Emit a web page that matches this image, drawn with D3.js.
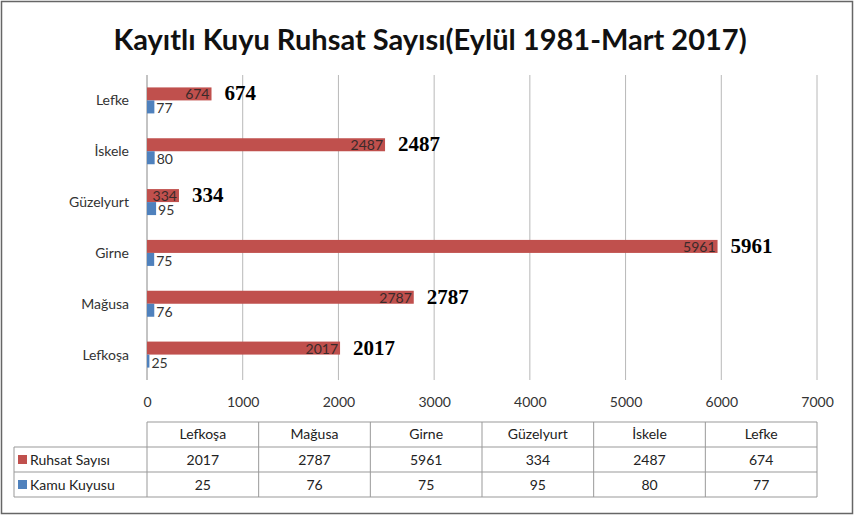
<!DOCTYPE html>
<html><head><meta charset="utf-8">
<script src="https://cdn.jsdelivr.net/npm/d3@7"></script>
<style>body{margin:0;background:#fff}</style></head>
<body><svg id="c" width="855" height="519"></svg>
<script>
const categories=["Lefkoşa","Mağusa","Girne","Güzelyurt","İskele","Lefke"];
const ruhsat=[2017,2787,5961,334,2487,674];
const kamu=[25,76,75,95,80,77];
const seriesNames=["Ruhsat Sayısı","Kamu Kuyusu"];
const colors=["#c0504d","#4f81bd"];
const ticks=[0,1000,2000,3000,4000,5000,6000,7000];
const svg=d3.select("#c");
const F="Lato, 'Open Sans', sans-serif";
svg.append("rect").attr("x",1.5).attr("y",1.5).attr("width",851).attr("height",512).attr("fill","#fff").attr("stroke","#666").attr("stroke-width",1.5);
svg.append("text").attr("x",430).attr("y",50).attr("text-anchor","middle").attr("font-family",F).attr("font-weight","bold").attr("font-size",29).attr("fill","#111").text("Kayıtlı Kuyu Ruhsat Sayısı(Eylül 1981-Mart 2017)");
const x=d3.scaleLinear().domain([0,7000]).range([147,817]);
const y=d3.scaleBand().domain(categories.slice().reverse()).range([75,380]);
svg.append("g").selectAll("line").data(ticks.slice(1)).join("line").attr("x1",d=>x(d)).attr("x2",d=>x(d)).attr("y1",75).attr("y2",380).attr("stroke","#b8b8b8");
svg.append("line").attr("x1",x(0)).attr("x2",x(0)).attr("y1",75).attr("y2",380).attr("stroke","#888");
const ax=svg.append("g").attr("transform","translate(0,380)").call(d3.axisBottom(x).tickValues(ticks).tickSize(0).tickPadding(17).tickFormat(d3.format("d")));
ax.select(".domain").remove();
ax.selectAll("text").attr("font-family",F).attr("font-size",14).attr("fill","#333");
categories.forEach((c,i)=>{
  const cy=y(c)+y.bandwidth()/2;
  svg.append("text").attr("x",129).attr("y",cy+5).attr("text-anchor","end").attr("font-family",F).attr("font-size",14).attr("fill","#333").text(c);
  const ry=cy-13;
  svg.append("rect").attr("x",x(0)).attr("y",ry).attr("width",x(ruhsat[i])-x(0)).attr("height",13).attr("fill",colors[0]);
  svg.append("rect").attr("x",x(0)).attr("y",cy).attr("width",x(kamu[i])-x(0)).attr("height",13).attr("fill",colors[1]);
  svg.append("text").attr("x",x(ruhsat[i])-2).attr("y",ry+12).attr("text-anchor","end").attr("font-family",F).attr("font-size",14).attr("fill","#3a2a2a").text(ruhsat[i]);
  svg.append("text").attr("x",x(kamu[i])+2).attr("y",cy+13).attr("font-family",F).attr("font-size",14).attr("fill","#333").text(kamu[i]);
  svg.append("text").attr("x",x(ruhsat[i])+13).attr("y",ry+13).attr("font-family","'Liberation Serif', serif").attr("font-weight","bold").attr("font-size",21).attr("fill","#000").text(ruhsat[i]);
});
const tx0=14,tx1=147,tx2=817,rows=[422,447,472,497];
const cw=(tx2-tx1)/6;
const g=svg.append("g").attr("stroke","#999").attr("fill","none");
g.append("line").attr("x1",tx1).attr("x2",tx2).attr("y1",rows[0]).attr("y2",rows[0]);
[1,2,3].forEach(r=>g.append("line").attr("x1",tx0).attr("x2",tx2).attr("y1",rows[r]).attr("y2",rows[r]));
g.append("line").attr("x1",tx0).attr("x2",tx0).attr("y1",rows[1]).attr("y2",rows[3]);
for(let k=0;k<=6;k++)g.append("line").attr("x1",tx1+k*cw).attr("x2",tx1+k*cw).attr("y1",rows[0]).attr("y2",rows[3]);
const tt=(xx,yy,t,a)=>svg.append("text").attr("x",xx).attr("y",yy).attr("text-anchor",a||"middle").attr("font-family",F).attr("font-size",14).attr("fill","#222").text(t);
categories.forEach((c,k)=>{
  const cx=tx1+cw*(k+0.5);
  tt(cx,rows[0]+17,c);tt(cx,rows[1]+18,ruhsat[k]);tt(cx,rows[2]+18,kamu[k]);
});
[ruhsat,kamu].forEach((s,r)=>{
  svg.append("rect").attr("x",18).attr("y",rows[r+1]+8).attr("width",9).attr("height",9).attr("fill",colors[r]);
  tt(30,rows[r+1]+18,seriesNames[r],"start");
});
</script></body></html>
